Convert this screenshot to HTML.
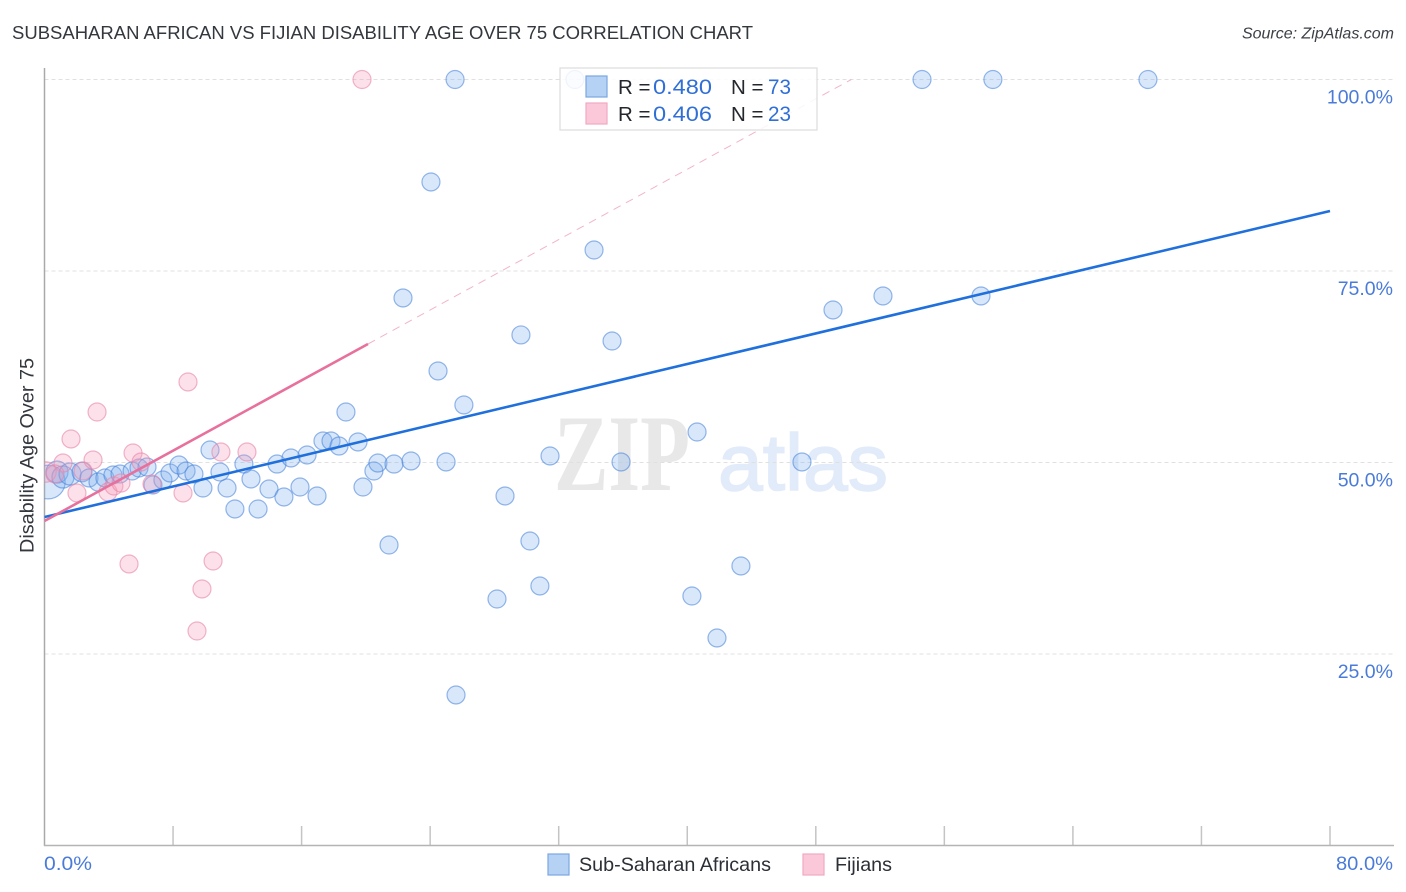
<!DOCTYPE html>
<html lang="en">
<head>
<meta charset="utf-8">
<title>Subsaharan African vs Fijian Disability Age Over 75 Correlation Chart</title>
<style>
html,body{margin:0;padding:0;background:#fff;width:1406px;height:892px;overflow:hidden}
svg{display:block;font-family:"Liberation Sans",sans-serif}
</style>
</head>
<body>
<svg id="chart" xmlns="http://www.w3.org/2000/svg" width="1406" height="892" viewBox="0 0 1406 892">
  <defs><clipPath id="plot-clip"><rect x="44.5" y="60" width="1350" height="786"/></clipPath></defs>
  <text x="12" y="39" font-size="18.5" fill="#33373e" textLength="741" lengthAdjust="spacingAndGlyphs">SUBSAHARAN AFRICAN VS FIJIAN DISABILITY AGE OVER 75 CORRELATION CHART</text>
  <text x="1394" y="38.5" font-size="16" font-style="italic" fill="#3c4047" text-anchor="end">Source: ZipAtlas.com</text>
  <g id="watermark">
    <text x="554" y="490" font-size="109" font-weight="bold" fill="#e8e8e8" textLength="136" lengthAdjust="spacingAndGlyphs" style="font-family:'Liberation Serif',serif">ZIP</text>
    <text x="718" y="490" font-size="80" fill="#e1ebf9" stroke="#e1ebf9" stroke-width="1.5" textLength="170" lengthAdjust="spacingAndGlyphs">atlas</text>
  </g>
  <g id="grid"></g>
  <g id="axes"></g>
  <g id="points" clip-path="url(#plot-clip)"></g>
  <g id="trends" clip-path="url(#plot-clip)"></g>
  <g id="y-labels"></g>
  <text transform="translate(33.5,455.5) rotate(-90)" font-size="19" fill="#33373e" text-anchor="middle" textLength="195" lengthAdjust="spacingAndGlyphs">Disability Age Over 75</text>
  <text x="44" y="870" font-size="19.5" fill="#4a7bd8" textLength="48" lengthAdjust="spacingAndGlyphs">0.0%</text>
  <text x="1336" y="870" font-size="19.5" fill="#4a7bd8" textLength="57" lengthAdjust="spacingAndGlyphs">80.0%</text>

  <g>
    <rect x="560" y="68" width="257" height="62" fill="#fff" fill-opacity="0.86" stroke="#dcdcdc" stroke-width="1.2"/>
    <rect x="586" y="76" width="21" height="21" fill="#b5d2f5" stroke="#7aa7e0" stroke-width="1.2"/>
    <rect x="586" y="103" width="21" height="21" fill="#fbc8da" stroke="#f0a9c2" stroke-width="1.2"/>
    <text x="618" y="94" font-size="20.5" fill="#23272e">R =</text>
    <text x="653" y="94" font-size="21.5" fill="#2f6fd6" textLength="59" lengthAdjust="spacingAndGlyphs">0.480</text>
    <text x="731" y="94" font-size="20.5" fill="#23272e">N =</text>
    <text x="768" y="94" font-size="21.5" fill="#2f6fd6" textLength="23" lengthAdjust="spacingAndGlyphs">73</text>
    <text x="618" y="121" font-size="20.5" fill="#23272e">R =</text>
    <text x="653" y="121" font-size="21.5" fill="#2f6fd6" textLength="59" lengthAdjust="spacingAndGlyphs">0.406</text>
    <text x="731" y="121" font-size="20.5" fill="#23272e">N =</text>
    <text x="768" y="121" font-size="21.5" fill="#2f6fd6" textLength="23" lengthAdjust="spacingAndGlyphs">23</text>
  </g>

  <g>
    <rect x="548" y="854" width="21" height="21" fill="#b5d2f5" stroke="#7aa7e0" stroke-width="1.2"/>
    <text x="579" y="871" font-size="19.5" fill="#2b2f36" textLength="192" lengthAdjust="spacingAndGlyphs">Sub-Saharan Africans</text>
    <rect x="803" y="854" width="21" height="21" fill="#fbc8da" stroke="#f0a9c2" stroke-width="1.2"/>
    <text x="835" y="871" font-size="19.5" fill="#2b2f36" textLength="57" lengthAdjust="spacingAndGlyphs">Fijians</text>
  </g>
</svg>
<script>
const yTickValues = [25, 50, 75, 100];
const yTickLabels = ['25.0%', '50.0%', '75.0%', '100.0%'];
const xTickValues = [0, 8, 16, 24, 32, 40, 48, 56, 64, 72, 80];

const blueX = [0.24,0.78,1.15,1.59,2.33,2.77,3.33,3.76,4.26,4.70,5.45,5.88,6.38,6.75,7.37,7.81,8.37,8.81,9.30,9.86,
  10.30,10.92,11.36,11.85,12.41,12.85,13.29,13.97,14.47,14.90,15.34,15.90,16.34,16.96,17.33,17.83,18.33,18.76,19.51,19.82,
  20.50,20.75,21.44,21.75,22.31,22.81,24.05,24.49,24.99,25.55,25.61,26.10,28.16,28.66,29.65,30.21,30.83,31.46,33.01,34.20,
  35.32,35.88,40.29,40.61,41.85,43.34,47.14,49.07,52.18,54.61,58.28,59.02,68.67];
const blueY = [47.45,48.76,48.11,48.50,48.76,47.98,47.45,47.98,48.37,48.50,48.89,49.28,49.41,47.06,47.72,48.63,49.67,48.89,48.50,46.67,
  51.63,48.76,46.67,43.93,49.80,47.85,43.93,46.54,49.80,45.50,50.59,46.80,50.98,45.63,52.81,52.81,52.15,56.59,52.68,46.80,
  48.89,49.93,39.23,49.80,71.48,50.20,86.62,61.95,50.07,100,19.65,57.51,32.18,45.63,66.65,39.75,33.88,50.85,100,77.74,
  65.86,50.07,32.57,53.98,27.09,36.49,50.07,69.91,71.74,100,71.74,100,100];
const blueWeight = [3.5,1.5,1.5,1.5,1.2,1,1,1,1,1,1,1,1,1,1,1,1,1,1,1,
  1,1,1,1,1,1,1,1,1,1,1,1,1,1,1,1,1,1,1,1,
  1,1,1,1,1,1,1,1,1,1,1,1,1,1,1,1,1,1,1,1,
  1,1,1,1,1,1,1,1,1,1,1,1,1];

const pinkX = [0.09,1.15,1.65,2.02,2.40,3.02,3.27,3.95,4.32,4.76,5.26,5.51,6.01,6.69,8.62,8.93,9.49,9.80,10.49,10.98,12.60,19.76,0.65];
const pinkY = [48.76,49.93,53.07,46.02,48.89,50.33,56.59,46.15,46.93,47.32,36.75,51.24,50.07,47.19,46.02,60.51,28.00,33.49,37.14,51.37,51.37,100,48.50];
const pinkWeight = [1.3,1,1,1,1,1,1,1,1,1,1,1,1,1,1,1,1,1,1,1,1,1,1];

const blueTrendX = [0, 80];
const blueTrendY = [42.88, 82.83];
const pinkTrendX = [0, 20.13];
const pinkTrendY = [42.36, 65.47];
const pinkDashX = [20.13, 50.21];
const pinkDashY = [65.47, 100];

const NS = 'http://www.w3.org/2000/svg';
const sx = v => 44.5 + v * (1330 - 44.5) / 80;
const sy = v => 845.5 - v * 7.66;
function make(tag, parent, attrs, text) {
  const el = document.createElementNS(NS, tag);
  for (const k in attrs) el.setAttribute(k, attrs[k]);
  if (text !== undefined) el.textContent = text;
  parent.appendChild(el);
  return el;
}

const grid = document.getElementById('grid');
const axes = document.getElementById('axes');
const yLabels = document.getElementById('y-labels');
yTickValues.forEach((v, i) => {
  const line = make('line', grid, {x1: 44.5, x2: 1393, y1: sy(v), y2: sy(v), stroke: '#e0e0e0', 'stroke-width': 1, 'stroke-dasharray': '4 3'});
  
  
  const label = make('text', yLabels, {x: 1393, y: sy(v) + 24, 'font-size': 19.5, fill: '#4a7bd8', 'text-anchor': 'end'}, yTickLabels[i]);
  
  
});
xTickValues.forEach(v => {
  if (v === 0) return;
  const tick = make('line', axes, {x1: sx(v), x2: sx(v), y1: 826, y2: 846, stroke: '#c4c4c4', 'stroke-width': 1.5});
  
  
});
const yAxis = make('line', axes, {x1: 44.5, x2: 44.5, y1: 68, y2: 846, stroke: '#a9a9a9', 'stroke-width': 1.5});


const xAxis = make('line', axes, {x1: 44, x2: 1394, y1: 845.5, y2: 845.5, stroke: '#b4b4b4', 'stroke-width': 1.5});



const points = document.getElementById('points');
blueX.forEach((x, i) => {
  const c = make('circle', points, {cx: sx(x), cy: sy(blueY[i]), r: 9 * Math.sqrt(blueWeight[i]), fill: '#7fb0f0', 'fill-opacity': 0.3, stroke: '#3f7ed8', 'stroke-opacity': 0.55, 'stroke-width': 1.2});
  
  
});
pinkX.forEach((x, i) => {
  const c = make('circle', points, {cx: sx(x), cy: sy(pinkY[i]), r: 9 * Math.sqrt(pinkWeight[i]), fill: '#f59aba', 'fill-opacity': 0.3, stroke: '#e884a8', 'stroke-opacity': 0.6, 'stroke-width': 1.2});
  
  
});

const trends = document.getElementById('trends');
const blueTrend = make('line', trends, {x1: sx(blueTrendX[0]), y1: sy(blueTrendY[0]), x2: sx(blueTrendX[1]), y2: sy(blueTrendY[1]), stroke: '#1f6fdc', 'stroke-width': 2.6});


const pinkDash = make('line', trends, {x1: sx(pinkDashX[0]), y1: sy(pinkDashY[0]), x2: sx(pinkDashX[1]), y2: sy(pinkDashY[1]), stroke: '#f2b4ca', 'stroke-width': 1, 'stroke-dasharray': '8 6'});


const pinkTrend = make('line', trends, {x1: sx(pinkTrendX[0]), y1: sy(pinkTrendY[0]), x2: sx(pinkTrendX[1]), y2: sy(pinkTrendY[1]), stroke: '#e8709c', 'stroke-width': 2.6});


</script>
</body>
</html>
